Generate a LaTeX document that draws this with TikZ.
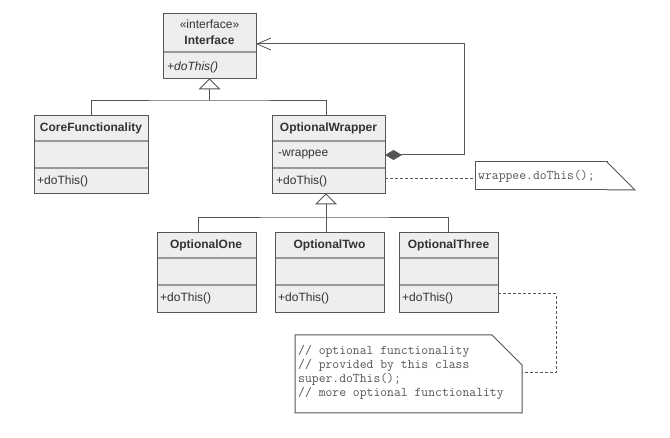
\documentclass[tikz,border=0pt]{standalone}
\usepackage{fontspec}
\setmainfont{Liberation Sans}
\usetikzlibrary{arrows.meta,calc}
\definecolor{boxfill}{HTML}{EEEEEE}
\definecolor{boxline}{HTML}{555555}
\definecolor{sepline}{HTML}{999999}
\definecolor{txt}{HTML}{333333}
\definecolor{monotxt}{HTML}{555555}
\newcommand{\umlcls}[7]{%
  \node[classbox, minimum width={#4-#2}, minimum height={#5-#3}] (#1) at ({(#2+#4)/2},{(#3+#5)/2}) {};
  \draw[sepstyle] (#2+0.5,#6) -- (#4-0.5,#6);
  \ifx&#7&\else\draw[sepstyle] (#2+0.5,#7) -- (#4-0.5,#7);\fi
}
\begin{document}
\begin{tikzpicture}[x=1pt,y=-1pt,
  classbox/.style={draw=boxline, fill=boxfill, line width=1pt, inner sep=0pt, outer sep=0pt},
  sepstyle/.style={draw=sepline, line width=2pt},
  title/.style={font=\fontsize{12}{14}\selectfont\bfseries, text=txt, inner sep=0pt, anchor=center},
  member/.style={font=\fontsize{12}{14}\selectfont, text=txt, inner sep=0pt, anchor=west},
  conn/.style={draw=boxline, line width=1pt},
  gentri/.style={draw=boxline, fill=white, line width=1pt, line join=miter},
  notelink/.style={draw=boxline, line width=1pt, dash pattern=on 3pt off 2pt},
  notebox/.style={draw=boxline, fill=white, line width=1pt},
  code/.style={font=\fontsize{13.3}{14}\selectfont\ttfamily, text=monotxt, inner sep=0pt, anchor=west, align=left},
]
\fill[white] (0,0) rectangle (670,438);
\useasboundingbox (0,0) rectangle (670,438);

% classes
\umlcls{iface}{163}{14}{256}{79}{52}{}
\umlcls{core}{34}{116}{148}{194}{141}{168}
\umlcls{wrapper}{272}{116}{385}{194}{141}{168}
\umlcls{one}{157}{233}{256}{313}{258}{285}
\umlcls{two}{275}{233}{384}{313}{258}{285}
\umlcls{three}{399}{233}{498}{313}{258}{285}

% texts
\node[member, anchor=center] (ifst) at (209.5,24) {«interface»};
\node[title] (ifname) at (209.5,40) {Interface};
\node[member, font=\fontsize{12}{14}\selectfont\itshape] (ifm) at (167,67) {+doThis()};

\node[title] (coret) at (91,128) {CoreFunctionality};
\node[member] (corem) at (37,181) {+doThis()};

\node[title] (wrappert) at (328.5,128) {OptionalWrapper};
\node[member] (wrappera) at (278,155) {-wrappee};
\node[member] (wrapperm) at (276,181) {+doThis()};

\node[title] (onet) at (206,245) {OptionalOne};
\node[member] (onem) at (160,298) {+doThis()};
\node[title] (twot) at (329.5,245) {OptionalTwo};
\node[member] (twom) at (278,298) {+doThis()};
\node[title] (threet) at (448.5,245) {OptionalThree};
\node[member] (threem) at (402,298) {+doThis()};

% generalization 1
\draw[gentri] (iface.south) -- ++(-10,10) -- ++(20,0) -- cycle;
\coordinate (g1) at ($(iface.south)+(0,10)$);
\coordinate (j1) at (209.5,101);
\draw[conn] (g1) -- (j1);
\draw[conn] (core.north) |- (j1) -| ($(wrapper.north west)+(54,0)$);

% generalization 2
\coordinate (w2) at ($(wrapper.south west)+(54,0)$);
\draw[gentri] (w2) -- ++(-10,10) -- ++(20,0) -- cycle;
\coordinate (g2) at ($(w2)+(0,10)$);
\coordinate (j2) at (326,218);
\draw[conn] (g2) -- (j2);
\draw[conn] ($(one.north west)+(41,0)$) |- (j2) -| ($(three.north west)+(49,0)$);
\draw[conn] (j2) -- ($(two.north west)+(51,0)$);

% composition
\draw[conn, {Diamond[length=17pt,width=10pt]}-{Straight Barb[length=14pt,width=12pt,line width=0.8pt]}]
  (wrapper.east |- 0,155) -- (464,155) -- (464,44) -- (iface.east |- 0,44);

% note 1
\node[notebox, minimum width=132, minimum height=28, inner sep=0pt, outer sep=0pt] (n1) at (541,176) {};
\draw[notebox] (n1.north east) -- (635,190) -- (n1.south east);
\node[code] (n1t) at (478,176) {wrappee.doThis();};
\draw[notelink] (wrapper.east |- 0,179) -- (n1.west |- 0,179);

% note 2
\draw[notebox] (295,335) -- (492,335) -- (522,365) -- (522,413) -- (295,413) -- cycle;
\coordinate (n2e) at (522,373);
\node[code] (n2t) at (298,372) {// optional functionality\\// provided by this class\\super.doThis();\\// more optional functionality};
\draw[notelink] (three.east |- 0,294) -- (556,294) |- (n2e);
\end{tikzpicture}
\end{document}
